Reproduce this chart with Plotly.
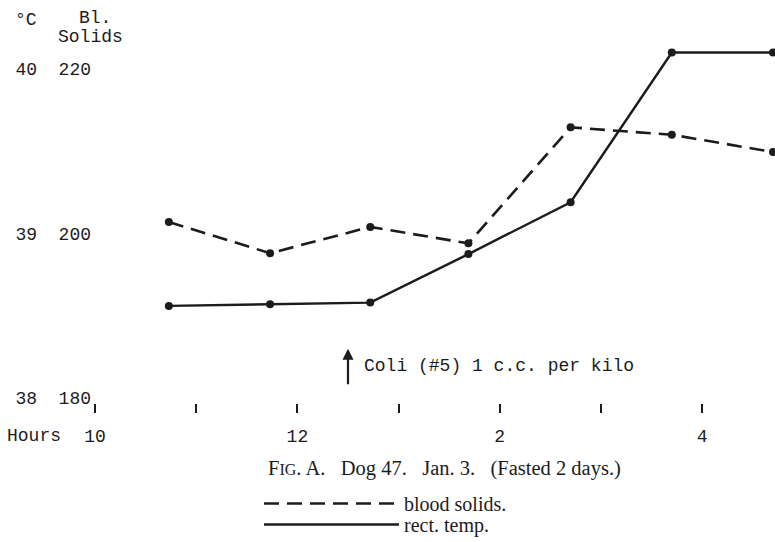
import plotly.graph_objects as go

# ---- data ----
hours = [10.73, 11.73, 12.72, 13.69, 14.70, 15.70, 16.70]          # clock time, 10 = 10 a.m.
blood_solids = [201.4, 197.6, 200.8, 198.8, 212.9, 212.0, 209.9]    # Bl. solids
rect_temp = [38.56, 38.57, 38.58, 38.875, 39.19, 40.10, 40.10]      # deg C

x_tick_vals = [10, 11, 12, 13, 14, 15, 16]
x_tick_text = ["10", "", "12", "", "2", "", "4"]
temp_ticks = [38, 39, 40]
solids_ticks = [180, 200, 220]
injection_hour = 12.5
injection_text = "Coli (#5) 1 c.c. per kilo"
caption = "F<span style='font-size:16px'>IG</span>. A.&nbsp;&nbsp; Dog 47.&nbsp;&nbsp; Jan. 3.&nbsp;&nbsp; (Fasted 2 days.)"

# ---- layout geometry (page margin removed by post_script) ----
W, H = 775, 542
L, R, T = 95, 2, 36
B = H - 403
plot_w, plot_h = W - L - R, H - T - B
temp_range = [37.97, 40.2]
solids_range = [180 + (v - 38) * 20 for v in temp_range]

def px_x(px):
    return (px - L) / plot_w

def px_y(py):
    return (H - B - py) / plot_h

MONO = "Liberation Mono"
SERIF = "Liberation Serif"
INK = "#1c1c1c"
MS = 18

fig = go.Figure()

# lines (legend entries)
fig.add_trace(go.Scatter(x=hours, y=blood_solids, yaxis="y2", mode="lines",
                         line=dict(color=INK, width=2.6, dash="15px,8px"),
                         name="blood solids.", legend="legend", cliponaxis=False))
fig.add_trace(go.Scatter(x=hours, y=rect_temp, yaxis="y", mode="lines",
                         line=dict(color=INK, width=2.4),
                         name="rect. temp.", legend="legend2", cliponaxis=False))
# points
fig.add_trace(go.Scatter(x=hours, y=blood_solids, yaxis="y2", mode="markers",
                         marker=dict(color=INK, size=8), showlegend=False, cliponaxis=False))
fig.add_trace(go.Scatter(x=hours, y=rect_temp, yaxis="y", mode="markers",
                         marker=dict(color=INK, size=8), showlegend=False, cliponaxis=False))

def label(text, x, y, family=MONO, size=MS):
    return dict(text=text, x=px_x(x), y=px_y(y), xref="paper", yref="paper",
                xanchor="center", yanchor="middle", showarrow=False,
                font=dict(family=family, size=size, color=INK))

annotations = [
    label("°C", 26, 20),
    label("Bl.", 95, 18),
    label("Solids", 90, 37),
    label("Hours", 34, 436),
    # injection arrow
    dict(text="", x=injection_hour, y=38.30, xref="x", yref="y", showarrow=True,
         ax=0, ay=37, arrowhead=2, arrowsize=1, arrowwidth=2.2, arrowcolor=INK),
    dict(text=injection_text, x=injection_hour, y=38.195, xref="x", yref="y",
         xanchor="left", yanchor="middle", xshift=14, showarrow=False,
         font=dict(family=MONO, size=MS, color=INK)),
    label(caption, 444, 468, family=SERIF, size=20.5),
]

legend_common = dict(xanchor="left", yanchor="top", orientation="v", itemwidth=135,
                     bgcolor="rgba(0,0,0,0)", font=dict(family=SERIF, size=20, color=INK))

fig.update_layout(
    width=W, height=H,
    margin=dict(l=L, r=R, t=T, b=B, autoexpand=False),
    paper_bgcolor="white", plot_bgcolor="white",
    showlegend=True,
    legend=dict(x=px_x(259), y=px_y(484), **legend_common),
    legend2=dict(x=px_x(259), y=px_y(505), **legend_common),
    xaxis=dict(range=[10, 16.7], tickvals=x_tick_vals, ticktext=x_tick_text,
               showgrid=False, zeroline=False, showline=False, automargin=False,
               ticks="outside", ticklen=9, tickwidth=2.2, tickcolor=INK,
               tickfont=dict(family=MONO, size=MS, color=INK), ticklabelstandoff=7),
    yaxis=dict(range=temp_range, tickvals=temp_ticks, ticktext=[str(v) for v in temp_ticks],
               showgrid=False, zeroline=False, showline=False, ticks="", automargin=False,
               tickfont=dict(family=MONO, size=MS, color=INK), ticklabelstandoff=57),
    yaxis2=dict(range=solids_range, tickvals=solids_ticks, ticktext=[str(v) for v in solids_ticks],
                overlaying="y", side="left", showgrid=False, zeroline=False, showline=False,
                ticks="", automargin=False,
                tickfont=dict(family=MONO, size=MS, color=INK), ticklabelstandoff=3),
    annotations=annotations,
)

fig.write_html(
    "out.html",
    config={"displayModeBar": False},
    post_script="document.body.style.margin='0';"
                "document.body.style.overflow='hidden';"
                "document.documentElement.style.overflow='hidden';",
)
